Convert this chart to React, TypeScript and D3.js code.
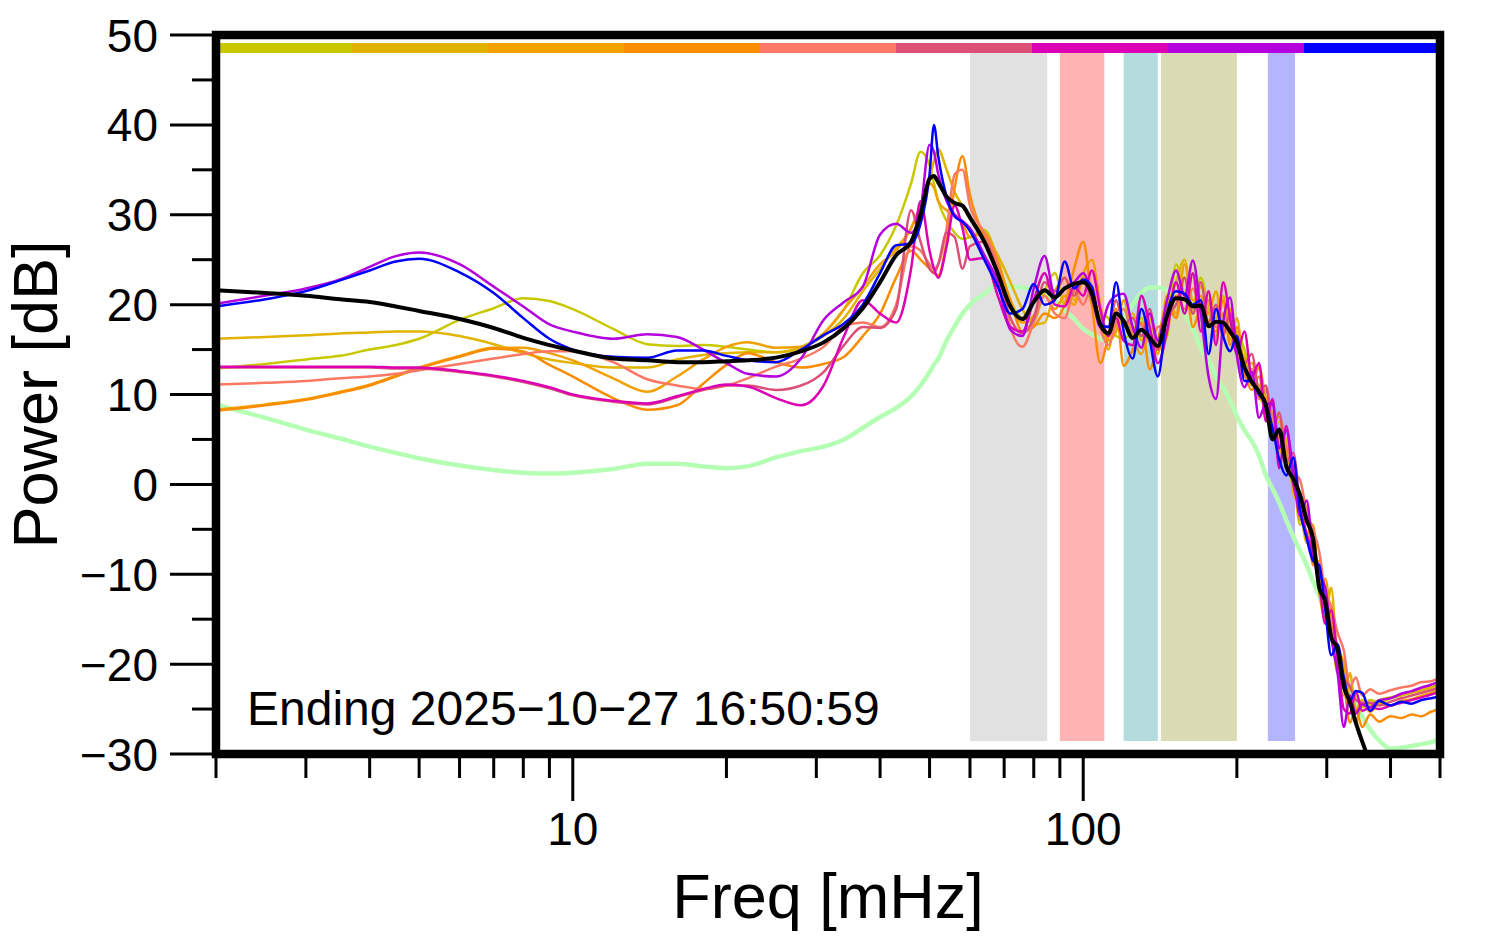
import * as d3 from "d3";

// frequency grid, mHz
const freq = [
  2, 2.5, 3, 3.5, 4, 4.5, 5, 6, 7, 8, 9, 10, 12, 14, 16, 18, 20, 22, 25, 28,
  31, 34, 37, 40, 43, 46, 48, 50, 51, 52, 54, 56, 58, 60,
  64, 68, 72, 76, 80, 84, 88, 92, 96, 100, 104, 108, 112, 116, 120, 125, 130, 135, 140, 146,
  152, 158, 164, 170, 176, 182, 188, 194, 200, 207, 214, 221, 228, 235, 242, 250, 258, 266, 274, 282,
  290, 298, 306, 315, 324, 333, 342, 352,
  365, 380, 400, 420, 440, 460, 480, 500,
];

// spectra, dB (one per station)
const specA = [
  12.9, 13.4, 13.9, 14.3, 15.0, 15.5, 16.2, 18.3, 19.6, 20.7, 20.4, 19.5, 17.3, 15.6, 15.4, 15.5, 15.3, 15.0, 14.7, 15.3,
  16.8, 19.5, 23.5, 25.5, 28.8, 33.5, 37.0, 35.5, 33.5, 31.5, 29.3, 28.0, 27.3, 27.5,
  28.3, 25.0, 20.5, 18.5, 18.3, 21.5, 23.5, 20.0, 21.5, 23.0, 20.0, 19.0, 18.5, 16.5, 16.2, 17.0, 18.5, 16.0, 15.0, 16.5,
  24.5, 21.0, 20.0, 23.0, 19.5, 16.5, 19.0, 18.0, 17.0, 15.0, 11.5, 11.0, 9.5, 6.5, 7.0, 3.5, 1.0, -4.5, -3.0, -7.5,
  -10.5, -13.5, -16.0, -21.0, -19.5, -24.5, -23.5, -24.8,
  -24.0, -24.3, -23.8, -23.5, -23.2, -22.9, -22.6, -22.2,
];
const specB = [
  16.2, 16.4, 16.6, 16.8, 16.9, 17.0, 17.0, 16.5, 15.6, 14.6, 13.9, 13.5, 13.0, 13.0, 13.9, 14.4, 14.6, 14.7, 14.7, 15.2,
  16.5, 18.5, 21.5, 24.0, 26.3, 28.5, 31.0, 34.0, 36.0, 37.3, 35.0, 32.5, 31.0, 29.5,
  28.0, 25.5, 22.5, 19.5, 17.8, 18.0, 21.5, 23.0, 20.5, 22.5, 21.0, 19.5, 15.0, 19.0, 17.5, 19.0, 16.0, 18.5, 15.5, 19.5,
  22.5, 25.0, 19.0, 22.0, 20.0, 18.5, 21.0, 16.0, 18.5, 13.0, 13.5, 10.0, 8.5, 8.0, 3.5, 5.0, -1.0, -2.5, -6.5, -6.0,
  -12.0, -15.0, -11.5, -20.0, -23.5, -21.0, -25.0, -24.0,
  -24.5, -24.0, -23.7, -23.4, -23.1, -22.9, -22.6, -22.3,
];
const specC = [
  8.3, 8.9, 9.5, 10.3, 11.1, 12.1, 13.0, 14.3, 15.2, 15.2, 14.6, 13.8, 11.8, 10.3, 12.0, 13.9, 15.3, 15.8, 15.2, 15.3,
  16.8, 19.5, 22.0, 24.5, 26.0, 28.5, 31.0, 33.5, 33.0, 31.5, 30.5, 30.0, 29.0, 27.5,
  28.0, 25.0, 20.0, 18.0, 18.8, 21.0, 19.5, 21.0, 20.0, 23.5, 25.0, 20.0, 16.0, 17.0, 20.5, 16.5, 14.5, 17.0, 14.5, 21.0,
  19.0, 24.5, 20.5, 21.0, 19.0, 21.5, 17.0, 19.5, 16.0, 14.0, 11.0, 13.0, 9.5, 7.0, 7.5, 4.5, 0.0, -1.0, -5.5, -4.5,
  -11.5, -10.5, -15.0, -18.0, -20.0, -24.0, -26.5, -24.5,
  -25.3, -24.4, -24.6, -24.1, -23.9, -23.5, -23.2, -22.9,
];
const specD = [
  8.2, 8.8, 9.4, 10.2, 11.0, 12.0, 12.9, 14.2, 15.1, 14.8, 13.3, 12.0, 9.6, 8.3, 8.8, 11.2, 13.3, 14.6, 13.6, 13.0,
  13.4, 14.2, 16.5, 19.0, 23.0, 26.0, 25.0, 24.0, 23.5, 23.3, 27.0, 33.0, 36.5, 32.2,
  27.5, 24.5, 20.5, 17.0, 17.5, 19.0, 18.5, 20.0, 24.0, 27.0, 20.0, 13.5, 16.5, 19.5, 13.2, 15.0, 18.0, 12.8, 16.0, 20.0,
  18.5, 23.0, 17.5, 19.5, 18.0, 17.0, 20.5, 15.5, 17.5, 12.5, 10.5, 12.0, 8.0, 9.0, 4.5, 3.0, 2.0, -4.0, -2.5, -9.0,
  -8.5, -13.5, -16.5, -19.0, -22.0, -26.5, -25.0, -27.0,
  -25.6, -26.4, -25.8, -26.0, -25.6, -25.8, -25.3, -25.0,
];
const specE = [
  11.1, 11.3, 11.5, 11.8, 12.0, 12.3, 12.7, 13.4, 14.0, 14.5, 14.8, 14.8, 13.6, 11.7, 11.0, 10.6, 11.0, 11.8, 13.1, 14.0,
  15.3, 17.6, 18.0, 17.5, 20.0, 26.5, 26.0, 24.5, 24.0, 24.5, 28.5, 34.5, 35.0, 31.0,
  28.0, 24.5, 17.5, 15.3, 18.0, 21.0, 19.0, 18.5, 21.5, 20.0, 22.0, 17.5, 15.5, 18.0, 19.5, 17.0, 17.8, 15.8, 17.5, 17.8,
  21.0, 19.5, 21.8, 19.5, 20.5, 17.5, 19.0, 17.0, 14.8, 12.0, 12.8, 9.5, 10.5, 7.5, 5.5, 4.0, 1.5, 0.5, -3.0, -5.0,
  -7.5, -12.0, -13.5, -16.5, -18.5, -22.5, -21.5, -23.5,
  -22.8, -23.3, -22.9, -22.6, -22.4, -22.0, -21.9, -21.5,
];
const specF = [
  13.0, 13.0, 13.0, 13.0, 13.0, 12.9, 12.9, 12.5, 12.0, 11.4, 10.7, 9.9, 9.2, 8.9, 9.7, 10.5, 11.0, 11.0, 10.5, 11.0,
  12.5, 15.5, 17.5, 17.4, 19.5, 30.5, 27.0, 24.0, 23.5, 24.5, 28.0, 27.5, 24.0, 26.5,
  27.0, 23.5, 18.5, 16.8, 18.5, 22.5, 21.5, 23.0, 21.0, 22.8, 20.5, 18.0, 17.5, 20.5, 17.8, 18.5, 16.5, 19.5, 15.0, 18.8,
  20.0, 23.0, 19.0, 22.5, 18.0, 20.0, 16.5, 19.0, 16.0, 13.5, 14.5, 10.5, 11.0, 6.0, 8.0, 2.5, 3.5, -2.0, -3.5, -7.0,
  -9.5, -12.5, -16.0, -18.0, -21.5, -22.5, -24.0, -24.3,
  -24.3, -24.6, -24.2, -23.8, -23.5, -23.2, -22.9, -22.6,
];
const specG = [
  13.1, 13.1, 13.1, 13.1, 13.1, 13.0, 13.0, 12.6, 12.1, 11.5, 10.8, 10.0, 9.3, 9.0, 9.8, 10.6, 11.1, 10.9, 9.6, 8.8,
  11.0, 16.5, 20.5, 19.0, 18.0, 24.0, 31.5, 26.0, 24.0, 23.0, 26.5, 31.0, 28.5, 25.0,
  25.2, 21.0, 17.5, 17.0, 20.5, 23.5, 20.0, 19.8, 22.0, 21.0, 23.8, 19.5, 16.5, 18.5, 16.0, 15.5, 21.0, 17.5, 13.5, 17.0,
  22.5, 19.0, 23.5, 17.0, 21.5, 15.5, 22.5, 18.5, 14.5, 17.0, 12.0, 13.5, 7.0, 9.5, 1.8, 6.5, 0.0, -2.8, -5.5, -8.0,
  -11.0, -15.5, -14.0, -19.5, -25.0, -25.5, -23.0, -25.2,
  -24.8, -25.0, -24.6, -24.3, -24.0, -23.7, -23.4, -23.0,
];
const specH = [
  20.1, 21.0, 21.8, 22.8, 24.2, 25.4, 25.8, 24.5, 22.0, 19.8, 17.8, 17.0, 16.2, 16.7, 16.4, 15.0, 13.5, 12.3, 12.0, 14.0,
  18.3, 20.3, 22.0, 27.8, 29.0, 28.0, 30.5, 37.8, 37.0, 34.5, 31.5, 30.0, 29.3, 28.5,
  25.5, 22.5, 17.2, 16.5, 21.8, 25.4, 21.0, 21.8, 22.5, 23.5, 21.0, 17.5, 20.0, 21.0, 21.2, 17.5, 15.2, 19.0, 16.0, 20.5,
  23.8, 21.0, 24.9, 19.0, 12.0, 9.5, 18.0, 20.8, 14.3, 10.8, 12.5, 7.4, 9.0, 8.9, 4.0, 6.0, 1.5, -3.5, -1.8, -7.5,
  -10.0, -11.5, -17.0, -21.0, -27.0, -23.5, -25.5, -24.5,
  -24.8, -24.0, -23.8, -23.3, -23.0, -22.6, -22.3, -21.9,
];
const specI = [
  19.8, 20.6, 21.5, 22.7, 23.8, 24.8, 25.1, 23.6, 21.3, 18.5, 16.2, 15.0, 14.2, 14.1, 14.9, 14.9, 14.3, 13.8, 13.6, 15.0,
  16.6, 17.9, 20.0, 23.5, 26.6, 26.8, 29.0, 34.5, 40.0, 36.5, 32.0, 29.8, 29.2, 28.2,
  25.0, 22.0, 19.0, 19.5, 22.3, 20.0, 20.5, 24.8, 21.8, 22.8, 22.0, 17.8, 17.5, 22.5, 17.0, 14.0, 19.5, 16.0, 12.0, 19.0,
  21.5, 21.2, 20.0, 20.5, 14.5, 19.5, 16.5, 14.8, 16.5, 11.5, 11.5, 10.0, 9.0, 6.2, 2.8, 1.0, 3.0, -3.0, -6.0, -8.5,
  -9.0, -14.0, -19.0, -17.8, -21.5, -24.0, -23.0, -23.2,
  -25.2, -24.1, -24.6, -24.2, -24.4, -24.0, -23.8, -23.6,
];

// mean of all stations (black) and reference model (pale green)
const meanSpec = [
  21.6, 21.3, 21.0, 20.6, 20.3, 19.8, 19.3, 18.4, 17.4, 16.3, 15.5, 14.9, 14.0, 13.8, 13.6, 13.6, 13.7, 13.8, 14.1, 14.8,
  15.8, 17.4, 19.6, 22.5, 25.5, 27.0, 30.0, 34.0, 34.3, 33.6, 32.0, 31.3, 31.0, 29.7,
  27.0, 23.5, 19.8, 18.4, 20.3, 21.6, 20.8, 21.8, 22.3, 22.5, 21.2, 17.8, 16.8, 19.0, 18.2, 16.3, 17.2, 16.3, 15.4, 18.8,
  20.7, 20.6, 19.8, 19.9, 17.6, 18.1, 18.0, 17.0, 15.8, 13.0, 11.4, 10.3, 8.8, 5.0, 6.1, 2.0, 0.6, -1.2, -4.0, -6.0,
  -11.5, -13.0, -17.0, -18.3, -22.5, -24.2, -26.5, -28.6,
  -31, -33, -35, -36, -37, -38, -38, -38,
];
const refSpec = [
  8.9, 7.4, 6.1, 5.1, 4.2, 3.5, 2.9, 2.1, 1.6, 1.3, 1.2, 1.3, 1.7, 2.3, 2.3, 2.0, 1.8, 2.0, 3.0, 3.7,
  4.2, 5.0, 6.3, 7.5, 8.5, 9.8, 11.0, 12.5, 13.3, 14.0, 16.0, 17.6, 19.0, 20.0,
  21.2, 22.2, 22.0, 21.9, 21.6, 21.0, 20.4, 19.4, 18.4, 17.3, 16.7, 16.2, 16.0, 17.5, 18.6, 20.0, 21.3, 21.9, 21.9, 21.6,
  20.6, 19.0, 17.3, 15.2, 13.8, 12.0, 10.8, 9.3, 7.6, 6.0, 4.8, 3.2, 1.0, -0.5, -2.0, -4.0, -5.8, -7.4, -9.0, -10.8,
  -12.4, -14.2, -16.4, -18.6, -20.5, -22.8, -24.3, -25.8,
  -27.3, -28.5, -29.4, -29.3, -29.1, -28.9, -28.7, -28.3,
];

const stationColors = ["#c8c800", "#e0b400", "#f0a000", "#fa8c00", "#fa7864", "#dc5078", "#dc00b4", "#b400dc", "#0000ff"];
const stationSpecs = [specA, specB, specC, specD, specE, specF, specG, specH, specI];

// shaded frequency bands, mHz
const bandLo = [60, 90, 120, 142, 230];
const bandHi = [85, 110, 140, 200, 260];
const bandColors = ["#e1e1e1", "#ffb4b4", "#b4dcdf", "#dadab4", "#b4b4ff"];

const yMajor = [-30, -20, -10, 0, 10, 20, 30, 40, 50];
const yMinor = [-25, -15, -5, 5, 15, 25, 35, 45];
const xMajor = [10, 100];
const xMinor = [2, 3, 4, 5, 6, 7, 8, 9, 20, 30, 40, 50, 60, 70, 80, 90, 200, 300, 400, 500];

const stamp = "Ending 2025\u221210\u221227 16:50:59";

const W = 1494;
const H = 952;
const left = 216;
const right = 1440;
const top = 35;
const bottom = 754;
const font = "'Liberation Sans', Arial, Helvetica, sans-serif";

const fmt = (v: number) => (v < 0 ? "\u2212" + Math.abs(v) : String(v));

export default function App() {
  const x = d3.scaleLog().domain([2, 500]).range([left, right]);
  const y = d3.scaleLinear().domain([-30, 50]).range([bottom, top]);
  const line = d3
    .line<number>()
    .x((_, i) => x(freq[i]))
    .y((d) => y(d))
    .curve(d3.curveMonotoneX);

  // colour strip along the top
  const strip = d3
    .scaleBand<number>()
    .domain(stationColors.map((_, i) => i))
    .range([left, right]);

  return (
    <svg width={W} height={H} style={{ position: "absolute", left: 0, top: 0, background: "#fff" }} fontFamily={font}>
      <defs>
        <clipPath id="plot">
          <rect x={left} y={top} width={right - left} height={bottom - top} />
        </clipPath>
      </defs>

      {/* bands */}
      {bandLo.map((lo, i) => (
        <rect key={"b" + i} x={x(lo)} y={53} width={x(bandHi[i]) - x(lo)} height={741 - 53} fill={bandColors[i]} />
      ))}

      {/* top strip */}
      {stationColors.map((c, i) => (
        <rect key={"s" + i} x={strip(i)} y={43} width={strip.bandwidth()} height={10} fill={c} />
      ))}

      <g clipPath="url(#plot)" fill="none" strokeLinejoin="round">
        <path d={line(refSpec) || ""} stroke="#b4ffb4" strokeWidth={4.5} />
        {stationSpecs.map((s, i) => (
          <path key={"l" + i} d={line(s) || ""} stroke={stationColors[i]} strokeWidth={2.5} />
        ))}
        <path d={line(meanSpec) || ""} stroke="#000" strokeWidth={4} />
      </g>

      {/* ticks */}
      <g stroke="#000" strokeWidth={3}>
        {yMajor.map((v) => (
          <line key={"ym" + v} x1={left - 46} x2={left} y1={y(v)} y2={y(v)} />
        ))}
        {yMinor.map((v) => (
          <line key={"yn" + v} x1={left - 24} x2={left} y1={y(v)} y2={y(v)} />
        ))}
        {xMajor.map((v) => (
          <line key={"xm" + v} x1={x(v)} x2={x(v)} y1={bottom} y2={bottom + 47} />
        ))}
        {xMinor.map((v) => (
          <line key={"xn" + v} x1={x(v)} x2={x(v)} y1={bottom} y2={bottom + 24} />
        ))}
      </g>
      <g fontSize={46} fill="#000">
        {yMajor.map((v) => (
          <text key={"yt" + v} x={left - 58} y={y(v)} dy="0.36em" textAnchor="end">
            {fmt(v)}
          </text>
        ))}
        {xMajor.map((v) => (
          <text key={"xt" + v} x={x(v)} y={845} textAnchor="middle">
            {v}
          </text>
        ))}
      </g>
      <text x={247} y={725} fontSize={48}>
        {stamp}
      </text>

      <text x={(left + right) / 2} y={918} textAnchor="middle" fontSize={63}>
        Freq [mHz]
      </text>
      <text transform={`translate(57, ${(top + bottom) / 2}) rotate(-90)`} textAnchor="middle" fontSize={63}>
        Power [dB]
      </text>

      {/* frame */}
      <rect x={left} y={top} width={right - left} height={bottom - top} fill="none" stroke="#000" strokeWidth={8.5} />
    </svg>
  );
}
